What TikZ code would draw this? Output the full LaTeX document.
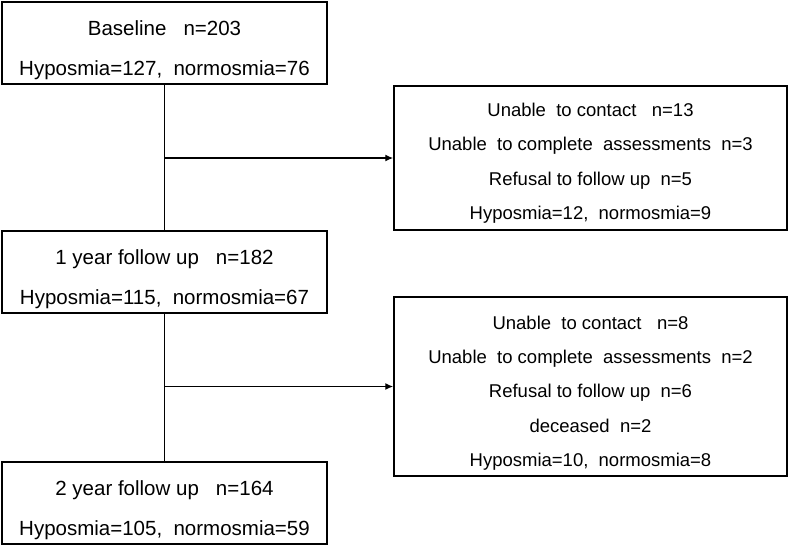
\documentclass[tikz,border=0pt]{standalone}
\usepackage{fontspec}
\setmainfont{Liberation Sans}
\usepackage{tikz}
\usetikzlibrary{arrows.meta}

\begin{document}
\begin{tikzpicture}[x=1pt,y=-1pt,
mainbox/.style={draw,line width=1.5pt, minimum width=325pt, minimum height=82pt, inner sep=0pt},
lossbox/.style={draw,line width=1.5pt, minimum width=393pt, inner sep=0pt},
maintxt/.style={anchor=base, inner sep=0pt, font=\fontsize{20.5}{24}\selectfont},
losstxt/.style={anchor=base, inner sep=0pt, font=\fontsize{18.5}{22}\selectfont},
>={Latex[length=8pt,width=7pt]}
]
\useasboundingbox (0,0) rectangle (790,546);

\node[mainbox](base) at (164.5,43) {};
\node[mainbox](fua) at (164.5,272) {};
\node[mainbox](fub) at (164.5,503) {};

\node[lossbox, minimum height=144pt](lossa) at (590.5,158) {};
\node[lossbox, minimum height=179pt](lossb) at (590.5,386.5) {};

\node[maintxt](basea) at (164.5,35) {Baseline~~~n=203};
\node[maintxt](baseb) at (164.5,75) {Hyposmia=127,~ normosmia=76};
\node[maintxt](fuaa) at (164.5,264) {1 year follow up~~~n=182};
\node[maintxt](fuab) at (164.5,304) {Hyposmia=115,~ normosmia=67};
\node[maintxt](fuba) at (164.5,495) {2 year follow up~~~n=164};
\node[maintxt](fubb) at (164.5,535) {Hyposmia=105,~ normosmia=59};

\node[losstxt](lossaa) at (590.5,116.7) {Unable~ to contact~~~n=13};
\node[losstxt](lossab) at (590.5,150.9) {Unable~ to complete~ assessments~ n=3};
\node[losstxt](lossac) at (590.5,185.1) {Refusal to follow up~ n=5};
\node[losstxt](lossad) at (590.5,219.3) {Hyposmia=12,~ normosmia=9};

\node[losstxt](lossba) at (590.5,329.5) {Unable~ to contact~~~n=8};
\node[losstxt](lossbb) at (590.5,363.7) {Unable~ to complete~ assessments~ n=2};
\node[losstxt](lossbc) at (590.5,397.9) {Refusal to follow up~ n=6};
\node[losstxt](lossbd) at (590.5,432.1) {deceased~ n=2};
\node[losstxt](lossbe) at (590.5,466.3) {Hyposmia=10,~ normosmia=8};

% main flow
\draw[line width=1.4pt](base) to (fua);
\draw[line width=1.4pt](fua) to (fub);

% drop outs
\coordinate (ja) at (base.south |- lossa.west);
\coordinate (jb) at (fua.south |- lossb.west);
\draw[->,line width=1.4pt](ja) to (lossa.west);
\draw[->,line width=1.4pt](jb) to (lossb.west);

\end{tikzpicture}
\end{document}
